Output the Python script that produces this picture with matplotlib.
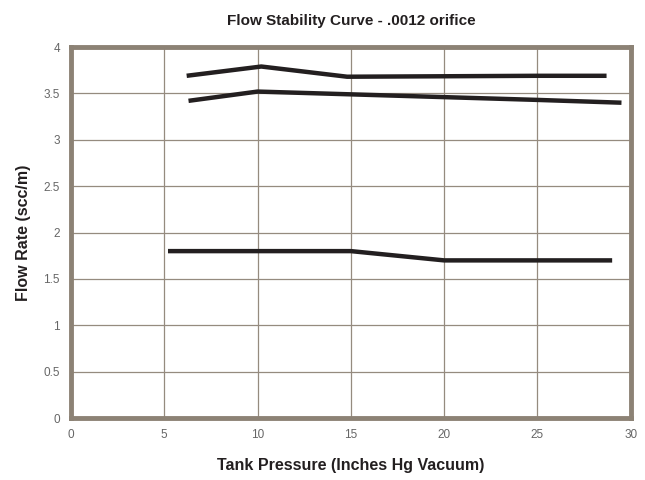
import matplotlib
matplotlib.use('Agg')
import matplotlib.pyplot as plt

# Datos
x_top = [6.2, 10.2, 14.8, 20, 25, 28.7]
y_top = [3.69, 3.79, 3.68, 3.685, 3.69, 3.69]

x_mid = [6.3, 10, 15, 20, 25, 29.5]
y_mid = [3.42, 3.52, 3.49, 3.46, 3.43, 3.40]

x_low = [5.2, 10, 15, 20, 25, 29.0]
y_low = [1.80, 1.80, 1.80, 1.70, 1.70, 1.70]

x_ticks = [0, 5, 10, 15, 20, 25, 30]
y_ticks = [0, 0.5, 1, 1.5, 2, 2.5, 3, 3.5, 4]
y_ticklabels = ["0", "0.5", "1", "1.5", "2", "2.5", "3", "3.5", "4"]

frame_color = "#8c8275"
plt.rcParams['font.family'] = ['Liberation Sans', 'DejaVu Sans']

fig = plt.figure(figsize=(6.45, 4.8), dpi=100)
ax = fig.add_axes([0.110, 0.129, 0.868, 0.773])

for xs, ys in [(x_top, y_top), (x_mid, y_mid), (x_low, y_low)]:
    ax.plot(xs, ys, color="#231f20", lw=3.2, solid_capstyle="butt", zorder=3)

ax.set_xlim(0, 30)
ax.set_ylim(0, 4)
ax.set_xticks(x_ticks)
ax.set_yticks(y_ticks)
ax.set_yticklabels(y_ticklabels)
ax.grid(True, color="#958b7f", lw=0.9)
ax.tick_params(length=0, labelsize=8.5, labelcolor="#666666", pad=8)

for sp in ax.spines.values():
    sp.set_color(frame_color)
    sp.set_linewidth(3.5)

ax.set_title("Flow Stability Curve - .0012 orifice", fontsize=11, fontweight="bold",
             color="#231f20", pad=16)
ax.set_xlabel("Tank Pressure (Inches Hg Vacuum)", fontsize=11.5, fontweight="bold",
              color="#231f20", labelpad=12)
ax.set_ylabel("Flow Rate (scc/m)", fontsize=11.5, fontweight="bold",
              color="#231f20", labelpad=9)

fig.savefig("out.png", dpi=100, facecolor="white")
